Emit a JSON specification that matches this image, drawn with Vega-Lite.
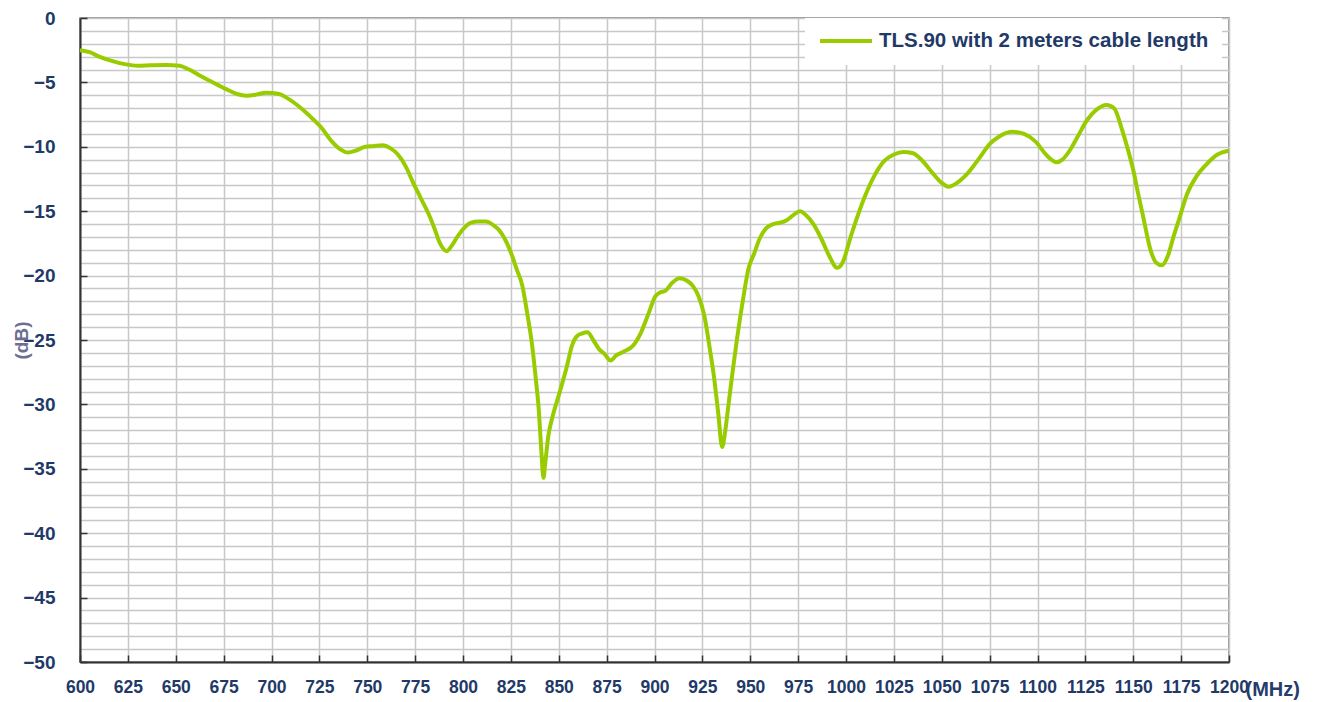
{
  "$schema": "https://vega.github.io/schema/vega-lite/v6.json",
  "autosize": {"type": "none"},
  "width": 1149,
  "height": 644,
  "padding": {"left": 80, "top": 18, "right": 89, "bottom": 40},
  "background": "white",
  "config": {
    "view": {"stroke": "#777777", "strokeWidth": 1.5},
    "font": "Liberation Sans"
  },
  "data": {
    "values": [
      {"f": 600, "db": -2.5}, {"f": 605, "db": -2.65}, {"f": 610, "db": -3.0}, {"f": 617, "db": -3.35},
      {"f": 624, "db": -3.6}, {"f": 630, "db": -3.7}, {"f": 637, "db": -3.67}, {"f": 645, "db": -3.65},
      {"f": 652, "db": -3.7}, {"f": 657, "db": -4.0}, {"f": 663, "db": -4.5}, {"f": 670, "db": -5.05},
      {"f": 676, "db": -5.5}, {"f": 682, "db": -5.9}, {"f": 687, "db": -6.03}, {"f": 692, "db": -5.95},
      {"f": 697, "db": -5.8}, {"f": 704, "db": -5.9}, {"f": 708, "db": -6.2}, {"f": 712, "db": -6.6},
      {"f": 717, "db": -7.2}, {"f": 722, "db": -7.9}, {"f": 726, "db": -8.5}, {"f": 731, "db": -9.5},
      {"f": 736, "db": -10.2}, {"f": 740, "db": -10.45}, {"f": 744, "db": -10.3}, {"f": 749, "db": -10.0},
      {"f": 753, "db": -9.95}, {"f": 758, "db": -9.88}, {"f": 762, "db": -10.1}, {"f": 766, "db": -10.6},
      {"f": 770, "db": -11.5}, {"f": 774, "db": -12.8}, {"f": 778, "db": -14.0}, {"f": 782, "db": -15.2},
      {"f": 785, "db": -16.3}, {"f": 788, "db": -17.5}, {"f": 791.5, "db": -18.1}, {"f": 794, "db": -17.7},
      {"f": 797, "db": -17.0}, {"f": 800, "db": -16.4}, {"f": 804, "db": -15.9}, {"f": 808, "db": -15.8},
      {"f": 812, "db": -15.8}, {"f": 816, "db": -16.1}, {"f": 819, "db": -16.5}, {"f": 822, "db": -17.2},
      {"f": 825, "db": -18.2}, {"f": 828, "db": -19.5}, {"f": 831, "db": -20.8}, {"f": 833.5, "db": -22.9},
      {"f": 836, "db": -25.3}, {"f": 838, "db": -28.0}, {"f": 839.5, "db": -30.3}, {"f": 841, "db": -33.8},
      {"f": 842, "db": -35.7}, {"f": 843, "db": -34.5}, {"f": 844.5, "db": -32.5}, {"f": 846.5, "db": -31.1},
      {"f": 850, "db": -29.3}, {"f": 854, "db": -27.2}, {"f": 857, "db": -25.4}, {"f": 859.5, "db": -24.7},
      {"f": 862, "db": -24.5}, {"f": 865, "db": -24.4}, {"f": 868, "db": -25.0}, {"f": 871, "db": -25.7},
      {"f": 874, "db": -26.1}, {"f": 877, "db": -26.6}, {"f": 880, "db": -26.2}, {"f": 884, "db": -25.9},
      {"f": 889, "db": -25.4}, {"f": 893, "db": -24.4}, {"f": 897, "db": -22.9}, {"f": 900.5, "db": -21.6},
      {"f": 903, "db": -21.3}, {"f": 905.5, "db": -21.2}, {"f": 909, "db": -20.6}, {"f": 913, "db": -20.2},
      {"f": 917, "db": -20.4}, {"f": 920, "db": -20.8}, {"f": 923, "db": -21.6}, {"f": 926, "db": -23.1},
      {"f": 929, "db": -25.8}, {"f": 931, "db": -27.8}, {"f": 933.3, "db": -30.7}, {"f": 935.3, "db": -33.3},
      {"f": 937, "db": -32.0}, {"f": 938.5, "db": -30.2}, {"f": 940.5, "db": -27.8}, {"f": 943, "db": -25.0},
      {"f": 946.5, "db": -21.6}, {"f": 949, "db": -19.5}, {"f": 952, "db": -18.3}, {"f": 955, "db": -17.1},
      {"f": 958.5, "db": -16.3}, {"f": 962, "db": -16.0}, {"f": 965.5, "db": -15.9}, {"f": 969, "db": -15.7},
      {"f": 972.5, "db": -15.3}, {"f": 976, "db": -15.0}, {"f": 979, "db": -15.3}, {"f": 983, "db": -16.0},
      {"f": 987, "db": -17.1}, {"f": 991, "db": -18.4}, {"f": 995.5, "db": -19.4}, {"f": 998.5, "db": -18.9},
      {"f": 1002, "db": -17.2}, {"f": 1006, "db": -15.4}, {"f": 1010, "db": -13.8}, {"f": 1015, "db": -12.2},
      {"f": 1020, "db": -11.1}, {"f": 1025, "db": -10.6}, {"f": 1030, "db": -10.4}, {"f": 1035, "db": -10.5},
      {"f": 1040, "db": -11.1}, {"f": 1045, "db": -12.0}, {"f": 1050, "db": -12.8}, {"f": 1053.5, "db": -13.1},
      {"f": 1058, "db": -12.8}, {"f": 1062, "db": -12.3}, {"f": 1066, "db": -11.6}, {"f": 1070, "db": -10.8},
      {"f": 1075, "db": -9.8}, {"f": 1080, "db": -9.2}, {"f": 1087, "db": -8.83}, {"f": 1093, "db": -9.0},
      {"f": 1099, "db": -9.6}, {"f": 1105, "db": -10.7}, {"f": 1110, "db": -11.2}, {"f": 1113, "db": -11.0},
      {"f": 1117, "db": -10.25}, {"f": 1121, "db": -9.2}, {"f": 1126, "db": -7.9}, {"f": 1131, "db": -7.1},
      {"f": 1136, "db": -6.75}, {"f": 1140, "db": -7.0}, {"f": 1144, "db": -8.6}, {"f": 1147, "db": -10.1},
      {"f": 1150, "db": -11.8}, {"f": 1152.5, "db": -13.6}, {"f": 1155, "db": -15.3}, {"f": 1159, "db": -18.0},
      {"f": 1162, "db": -19.0}, {"f": 1165, "db": -19.2}, {"f": 1168, "db": -18.5}, {"f": 1171, "db": -17.0},
      {"f": 1174, "db": -15.6}, {"f": 1178, "db": -13.7}, {"f": 1183, "db": -12.3}, {"f": 1188, "db": -11.4},
      {"f": 1194, "db": -10.6}, {"f": 1200, "db": -10.3}
    ]
  },
  "mark": {"type": "line", "strokeWidth": 4, "interpolate": "monotone"},
  "encoding": {
    "x": {
      "field": "f", "type": "quantitative",
      "scale": {"domain": [600, 1200], "nice": false, "zero": false},
      "axis": {
        "values": [600, 625, 650, 675, 700, 725, 750, 775, 800, 825, 850, 875, 900, 925, 950, 975, 1000, 1025, 1050, 1075, 1100, 1125, 1150, 1175, 1200],
        "format": "d",
        "grid": true, "gridColor": "#c8c8c8", "gridWidth": 1.5,
        "domainColor": "#333333", "domainWidth": 2,
        "tickColor": "#333333", "tickWidth": 1.5, "tickSize": -7,
        "labelPadding": 23, "labelFlush": false, "labelOverlap": false,
        "labelFont": "Liberation Sans", "labelFontSize": 17.5, "labelFontWeight": "bold", "labelColor": "#1f3a68",
        "title": "(MHz)", "titleX": 1165, "titleY": 27, "titleAlign": "left", "titleBaseline": "middle",
        "titleFont": "Liberation Sans", "titleFontSize": 20, "titleFontWeight": "bold", "titleColor": "#263d6b"
      }
    },
    "y": {
      "field": "db", "type": "quantitative",
      "scale": {"domain": [-50, 0], "nice": false, "zero": false},
      "axis": {
        "values": [-50, -49, -48, -47, -46, -45, -44, -43, -42, -41, -40, -39, -38, -37, -36, -35, -34, -33, -32, -31, -30, -29, -28, -27, -26, -25, -24, -23, -22, -21, -20, -19, -18, -17, -16, -15, -14, -13, -12, -11, -10, -9, -8, -7, -6, -5, -4, -3, -2, -1, 0],
        "labelExpr": "datum.value % 5 === 0 ? datum.label : ''",
        "grid": true, "gridColor": "#c8c8c8", "gridWidth": 1.5,
        "domainColor": "#333333", "domainWidth": 2,
        "tickColor": "#333333", "tickWidth": 1.5, "tickSize": -7,
        "tickOpacity": {"condition": {"test": "datum.value % 5 !== 0", "value": 0}, "value": 1},
        "labelPadding": 32, "labelOverlap": false, "labelFlush": false,
        "labelFont": "Liberation Sans", "labelFontSize": 19, "labelFontWeight": "bold", "labelColor": "#1f3a68",
        "title": "(dB)", "titleX": -59, "titleY": 322, "titleAlign": "center", "titleBaseline": "middle", "titleAngle": 270,
        "titleFont": "Liberation Sans", "titleFontSize": 19, "titleFontWeight": "bold", "titleColor": "#6e6e90"
      }
    },
    "color": {
      "datum": "TLS.90 with 2 meters cable length", "type": "nominal",
      "scale": {"range": ["#99cc00"]},
      "legend": {
        "title": null, "orient": "none", "legendX": 725, "legendY": 0,
        "fillColor": "white", "padding": 13, "clipHeight": 20,
        "symbolType": "stroke", "symbolSize": 2704, "symbolStrokeWidth": 4, "symbolStrokeColor": "#99cc00",
        "labelFont": "Liberation Sans", "labelFontSize": 20.5, "labelFontWeight": "bold", "labelColor": "#1f3a68",
        "labelOffset": 5, "labelLimit": 500
      }
    }
  }
}
